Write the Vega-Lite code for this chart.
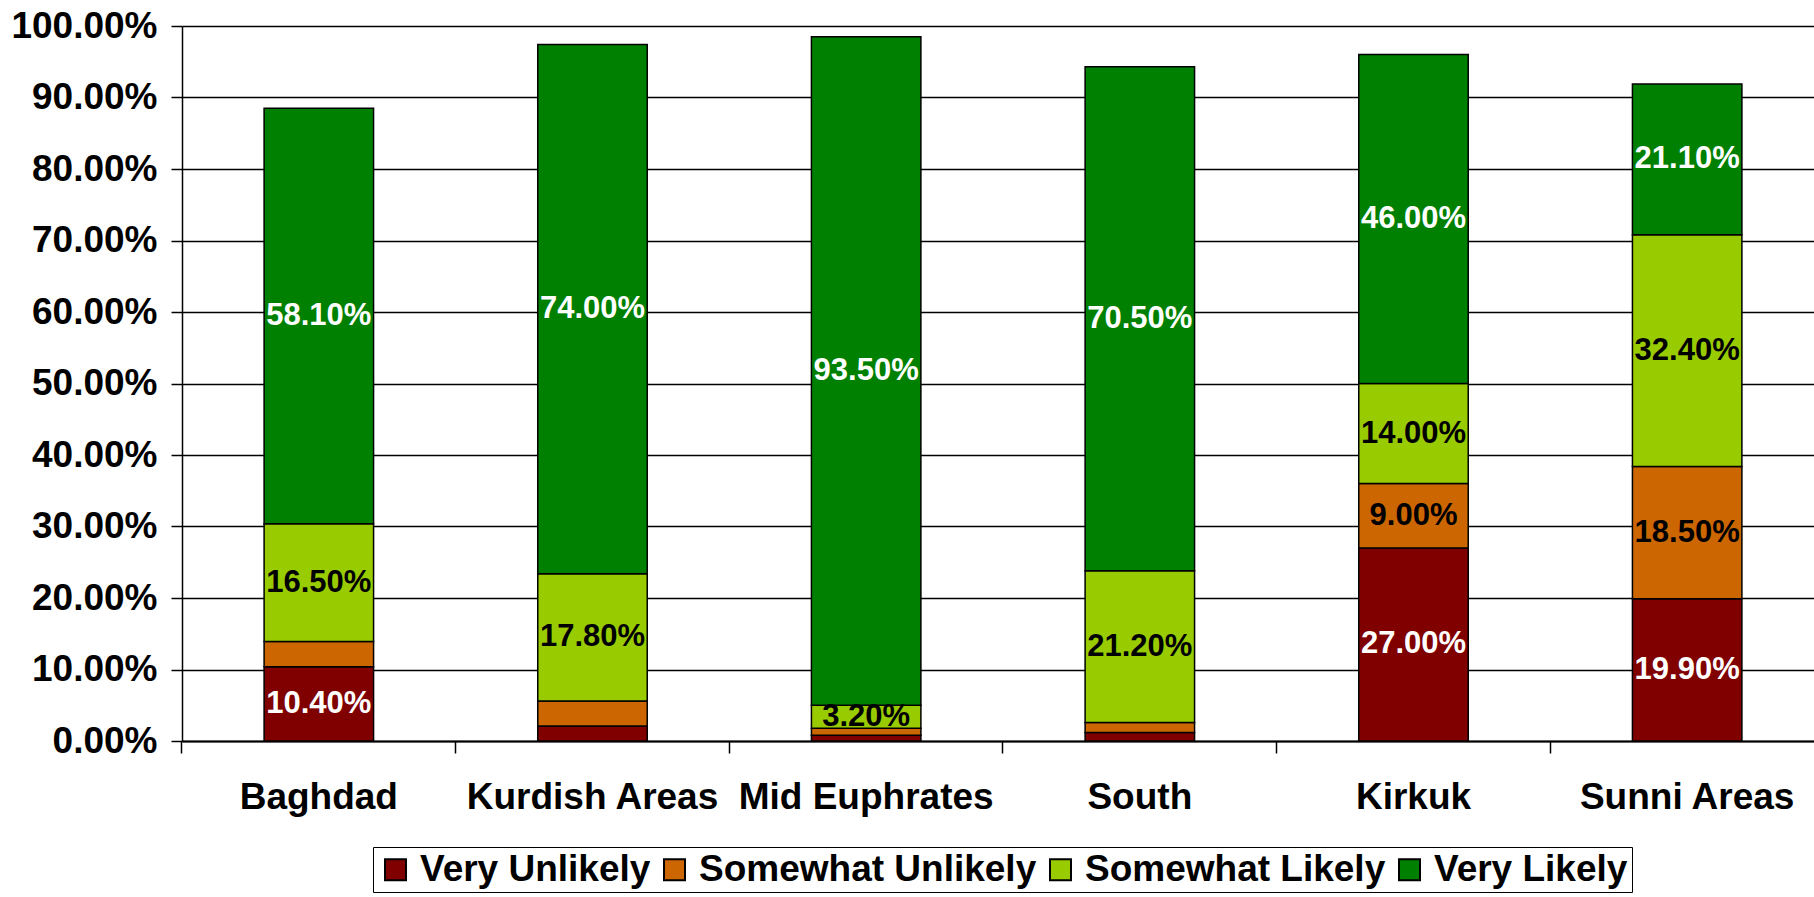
{
  "$schema": "https://vega.github.io/schema/vega-lite/v6.json",
  "width": 1642,
  "height": 715,
  "autosize": "none",
  "padding": {"left": 182, "top": 26, "right": 0, "bottom": 156},
  "background": "white",
  "config": {
    "font": "Liberation Sans",
    "view": {"stroke": null}
  },
  "data": {
    "values": [
      {"Region": "Baghdad", "Response": "Very Unlikely", "Rank": 1, "Value": 0.104},
      {"Region": "Baghdad", "Response": "Somewhat Unlikely", "Rank": 2, "Value": 0.035},
      {"Region": "Baghdad", "Response": "Somewhat Likely", "Rank": 3, "Value": 0.165},
      {"Region": "Baghdad", "Response": "Very Likely", "Rank": 4, "Value": 0.581},
      {"Region": "Kurdish Areas", "Response": "Very Unlikely", "Rank": 1, "Value": 0.021},
      {"Region": "Kurdish Areas", "Response": "Somewhat Unlikely", "Rank": 2, "Value": 0.035},
      {"Region": "Kurdish Areas", "Response": "Somewhat Likely", "Rank": 3, "Value": 0.178},
      {"Region": "Kurdish Areas", "Response": "Very Likely", "Rank": 4, "Value": 0.74},
      {"Region": "Mid Euphrates", "Response": "Very Unlikely", "Rank": 1, "Value": 0.008},
      {"Region": "Mid Euphrates", "Response": "Somewhat Unlikely", "Rank": 2, "Value": 0.01},
      {"Region": "Mid Euphrates", "Response": "Somewhat Likely", "Rank": 3, "Value": 0.032},
      {"Region": "Mid Euphrates", "Response": "Very Likely", "Rank": 4, "Value": 0.935},
      {"Region": "South", "Response": "Very Unlikely", "Rank": 1, "Value": 0.012},
      {"Region": "South", "Response": "Somewhat Unlikely", "Rank": 2, "Value": 0.014},
      {"Region": "South", "Response": "Somewhat Likely", "Rank": 3, "Value": 0.212},
      {"Region": "South", "Response": "Very Likely", "Rank": 4, "Value": 0.705},
      {"Region": "Kirkuk", "Response": "Very Unlikely", "Rank": 1, "Value": 0.27},
      {"Region": "Kirkuk", "Response": "Somewhat Unlikely", "Rank": 2, "Value": 0.09},
      {"Region": "Kirkuk", "Response": "Somewhat Likely", "Rank": 3, "Value": 0.14},
      {"Region": "Kirkuk", "Response": "Very Likely", "Rank": 4, "Value": 0.46},
      {"Region": "Sunni Areas", "Response": "Very Unlikely", "Rank": 1, "Value": 0.199},
      {"Region": "Sunni Areas", "Response": "Somewhat Unlikely", "Rank": 2, "Value": 0.185},
      {"Region": "Sunni Areas", "Response": "Somewhat Likely", "Rank": 3, "Value": 0.324},
      {"Region": "Sunni Areas", "Response": "Very Likely", "Rank": 4, "Value": 0.211}
    ]
  },
  "transform": [
    {"stack": "Value", "groupby": ["Region"], "sort": [{"field": "Rank", "order": "ascending"}], "as": ["v0", "v1"]},
    {"calculate": "(datum.v0 + datum.v1) / 2", "as": "mid"}
  ],
  "encoding": {
    "x": {
      "field": "Region",
      "type": "nominal",
      "sort": null,
      "scale": {"paddingInner": 0.6, "paddingOuter": 0.3},
      "axis": {
        "title": null,
        "labelAngle": 0,
        "labelLimit": 0,
        "labelFont": "Liberation Sans",
        "labelFontWeight": "bold",
        "labelFontSize": 37,
        "labelColor": "black",
        "labelPadding": 26,
        "labelBaseline": "top",
        "domainColor": "black",
        "domainWidth": 2,
        "tickColor": "black",
        "tickWidth": 1.5,
        "tickSize": 12,
        "bandPosition": -0.75
      }
    }
  },
  "layer": [
    {
      "mark": {"type": "bar", "stroke": "black", "strokeWidth": 1.5},
      "encoding": {
        "y": {
          "field": "v1",
          "type": "quantitative",
          "scale": {"domain": [0, 1], "nice": false},
          "axis": {
            "title": null,
            "values": [0, 0.1, 0.2, 0.3, 0.4, 0.5, 0.6, 0.7, 0.8, 0.9, 1.0],
            "format": ".2%",
            "labelFont": "Liberation Sans",
            "labelFontWeight": "bold",
            "labelFontSize": 37,
            "labelColor": "black",
            "labelPadding": 14,
            "grid": true,
            "gridColor": "black",
            "gridWidth": 1.3,
            "domainColor": "black",
            "domainWidth": 1.5,
            "tickColor": "black",
            "tickWidth": 1.5,
            "tickSize": 11
          }
        },
        "y2": {"field": "v0"},
        "color": {
          "field": "Response",
          "type": "nominal",
          "sort": ["Very Unlikely", "Somewhat Unlikely", "Somewhat Likely", "Very Likely"],
          "scale": {
            "domain": ["Very Unlikely", "Somewhat Unlikely", "Somewhat Likely", "Very Likely"],
            "range": ["#800000", "#CC6600", "#99CC00", "#008000"]
          },
          "legend": {
            "title": null,
            "orient": "none",
            "direction": "horizontal",
            "legendX": 191,
            "legendY": 821,
            "strokeColor": "black",
            "padding": 4,
            "labelLimit": 0,
            "labelFont": "Liberation Sans",
            "labelFontWeight": "bold",
            "labelFontSize": 37,
            "labelColor": "black",
            "labelOffset": 6,
            "columnPadding": 5,
            "symbolType": "square",
            "symbolSize": 441,
            "symbolStrokeColor": "black",
            "symbolStrokeWidth": 2,
            "symbolOpacity": 1
          }
        }
      }
    },
    {
      "transform": [
        {"filter": "datum.Response == 'Somewhat Likely' || datum.Value > 0.05"}
      ],
      "mark": {"type": "text", "font": "Liberation Sans", "fontWeight": "bold", "fontSize": 31, "align": "center", "baseline": "middle"},
      "encoding": {
        "y": {"field": "mid", "type": "quantitative"},
        "text": {"field": "Value", "type": "quantitative", "format": ".2%"},
        "color": {
          "condition": {"test": "datum.Response == 'Very Unlikely' || datum.Response == 'Very Likely'", "value": "white"},
          "value": "black"
        }
      }
    }
  ]
}
